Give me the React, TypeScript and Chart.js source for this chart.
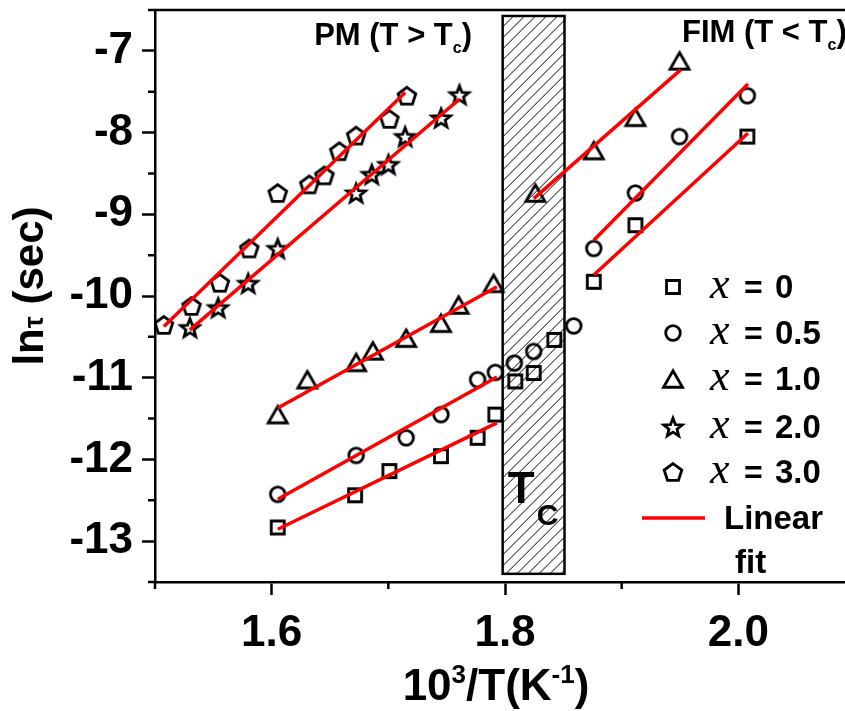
import { useEffect, useRef } from 'react';
import { Chart, registerables } from 'chart.js';

Chart.register(...registerables);

const SANS = '"Liberation Sans", Arial, Helvetica, sans-serif';
const SERIF = '"Liberation Serif", "Times New Roman", serif';

// 10^3/T (K^-1) and ln(tau) for each composition x
const x0Inv = [1.6052, 1.6715, 1.7009, 1.7451, 1.7765, 1.7917, 1.8088, 1.8246, 1.8423, 1.8761, 1.9118, 2.0077];
const x0LnTau = [-12.833, -12.439, -12.143, -11.96, -11.735, -11.451, -11.045, -10.943, -10.537, -9.826, -9.134, -8.049];

const x05Inv = [1.6052, 1.6724, 1.7153, 1.7451, 1.7765, 1.7917, 1.808, 1.8246, 1.8589, 1.8761, 1.9118, 1.9496, 2.0077];
const x05LnTau = [-12.427, -11.951, -11.735, -11.451, -11.024, -10.935, -10.821, -10.679, -10.366, -9.418, -8.74, -8.049, -7.549];

const x1Inv = [1.6052, 1.6306, 1.6724, 1.6867, 1.7153, 1.7451, 1.7602, 1.7902, 1.826, 1.8761, 1.9118, 1.9496];
const x1LnTau = [-11.451, -11.024, -10.813, -10.671, -10.516, -10.333, -10.11, -9.845, -8.74, -8.22, -7.813, -7.122];

const x2Inv = [1.5299, 1.5542, 1.5799, 1.6052, 1.6724, 1.6858, 1.7001, 1.7144, 1.7453, 1.761];
const x2LnTau = [-10.387, -10.143, -9.845, -9.418, -8.74, -8.512, -8.39, -8.049, -7.821, -7.537];

const x3Inv = [1.5076, 1.5313, 1.5556, 1.5808, 1.6052, 1.6323, 1.6452, 1.658, 1.6724, 1.7009, 1.7159];
const x3LnTau = [-10.354, -10.122, -9.838, -9.418, -8.74, -8.634, -8.524, -8.228, -8.037, -7.833, -7.549];

// Linear (Arrhenius) fits: [start, end] of each segment
const fitX3Inv = [1.5076, 1.7144];
const fitX3LnTau = [-10.374, -7.509];
const fitX2Inv = [1.5299, 1.761];
const fitX2LnTau = [-10.415, -7.589];
const fitX1ParaInv = [1.6052, 1.7931];
const fitX1ParaLnTau = [-11.37, -9.887];
const fitX05ParaInv = [1.6052, 1.7931];
const fitX05ParaLnTau = [-12.488, -10.991];
const fitX0ParaInv = [1.6052, 1.7931];
const fitX0ParaLnTau = [-12.854, -11.552];
const fitX1FerriInv = [1.8246, 1.9505];
const fitX1FerriLnTau = [-8.809, -7.232];
const fitX05FerriInv = [1.8761, 2.0082];
const fitX05FerriLnTau = [-9.317, -7.406];
const fitX0FerriInv = [1.8761, 2.0082];
const fitX0FerriLnTau = [-9.744, -8.009];

// Transition region around Tc
const tcBandInv = [1.798, 1.851];
const tcBandLnTau = [-13.4, -6.573];

const legendLabels = ['0', '0.5', '1.0', '2.0', '3.0'];
const markerKinds = ['square', 'circle', 'triangle', 'star', 'pentagon'];

const pts = (xs: number[], ys: number[]) => xs.map((x, i) => ({ x, y: ys[i] }));

function tracePath(ctx: CanvasRenderingContext2D, kind: string, cx: number, cy: number) {
  ctx.beginPath();
  if (kind === 'square') {
    ctx.rect(cx - 6.5, cy - 6.5, 13, 13);
  } else if (kind === 'circle') {
    ctx.arc(cx, cy, 7.3, 0, Math.PI * 2);
  } else if (kind === 'triangle') {
    const r = 11;
    const oy = cy + r / 4;
    for (let i = 0; i < 3; i++) {
      const a = -Math.PI / 2 + (i * 2 * Math.PI) / 3;
      const px = cx + r * Math.cos(a);
      const py = oy + r * Math.sin(a);
      if (i === 0) ctx.moveTo(px, py); else ctx.lineTo(px, py);
    }
  } else if (kind === 'pentagon') {
    const r = 9.3;
    const oy = cy + r * 0.0955;
    for (let i = 0; i < 5; i++) {
      const a = -Math.PI / 2 + (i * 2 * Math.PI) / 5;
      const px = cx + r * Math.cos(a);
      const py = oy + r * Math.sin(a);
      if (i === 0) ctx.moveTo(px, py); else ctx.lineTo(px, py);
    }
  } else if (kind === 'star') {
    const R = 9.8;
    const r = 4.2;
    const oy = cy + R * 0.0955;
    for (let i = 0; i < 10; i++) {
      const a = -Math.PI / 2 + (i * Math.PI) / 5;
      const rr = i % 2 === 0 ? R : r;
      const px = cx + rr * Math.cos(a);
      const py = oy + rr * Math.sin(a);
      if (i === 0) ctx.moveTo(px, py); else ctx.lineTo(px, py);
    }
  }
  ctx.closePath();
}

function makeMarker(kind: string): HTMLCanvasElement {
  const c = document.createElement('canvas');
  c.width = 30;
  c.height = 30;
  const ctx = c.getContext('2d')!;
  ctx.lineWidth = 2.8;
  ctx.strokeStyle = '#000';
  ctx.lineJoin = 'miter';
  tracePath(ctx, kind, 15, 15);
  ctx.stroke();
  return c;
}

type Run = { text: string; font: string; dy?: number };

function runsWidth(ctx: CanvasRenderingContext2D, runs: Run[]) {
  let w = 0;
  for (const r of runs) {
    ctx.font = r.font;
    w += ctx.measureText(r.text).width;
  }
  return w;
}

function drawRuns(ctx: CanvasRenderingContext2D, runs: Run[], x: number, y: number) {
  let cx = x;
  ctx.textAlign = 'left';
  ctx.textBaseline = 'alphabetic';
  for (const r of runs) {
    ctx.font = r.font;
    ctx.fillText(r.text, cx, y + (r.dy || 0));
    cx += ctx.measureText(r.text).width;
  }
}

export default function App() {
  const canvasRef = useRef<HTMLCanvasElement | null>(null);

  useEffect(() => {
    const canvas = canvasRef.current;
    if (!canvas) return;
    const markers = markerKinds.map(makeMarker);

    const scatter = (xs: number[], ys: number[], idx: number) => ({
      type: 'scatter' as const,
      data: pts(xs, ys),
      pointStyle: markers[idx],
      pointRadius: 9,
      showLine: false,
      order: 2,
    });
    const fit = (xs: number[], ys: number[]) => ({
      type: 'scatter' as const,
      data: pts(xs, ys),
      showLine: true,
      borderColor: '#ff0000',
      borderWidth: 3.5,
      pointRadius: 0,
      order: 1,
    });

    const decor = {
      id: 'decor',
      beforeDatasetsDraw(chart: any) {
        const { ctx, scales } = chart;
        const xs = scales.x;
        const ys = scales.y;
        // hatched Tc band
        const x1 = xs.getPixelForValue(tcBandInv[0]);
        const x2 = xs.getPixelForValue(tcBandInv[1]);
        const y1 = ys.getPixelForValue(tcBandLnTau[1]);
        const y2 = ys.getPixelForValue(tcBandLnTau[0]);
        ctx.save();
        ctx.beginPath();
        ctx.rect(x1, y1, x2 - x1, y2 - y1);
        ctx.clip();
        ctx.strokeStyle = '#000';
        ctx.lineWidth = 1;
        const h = y2 - y1;
        ctx.beginPath();
        for (let sx = x1 - h; sx < x2 + 2; sx += 11) {
          ctx.moveTo(sx, y2);
          ctx.lineTo(sx + h, y1);
        }
        ctx.stroke();
        ctx.restore();
        ctx.save();
        ctx.strokeStyle = '#000';
        ctx.lineWidth = 2.5;
        ctx.strokeRect(x1, y1, x2 - x1, y2 - y1);
        ctx.fillStyle = '#000';
        drawRuns(ctx, [{ text: 'T', font: `bold 44px ${SANS}` }], x1 + 5, ys.getPixelForValue(-12.53));
        drawRuns(ctx, [{ text: 'C', font: `bold 30px ${SANS}` }], x1 + 34, ys.getPixelForValue(-12.8));
        ctx.restore();
      },
      afterDraw(chart: any) {
        const { ctx, chartArea, scales } = chart;
        const xs = scales.x;
        const ys = scales.y;
        ctx.save();
        ctx.strokeStyle = '#000';
        ctx.fillStyle = '#000';
        ctx.lineWidth = 2.5;
        // top frame line
        ctx.beginPath();
        ctx.moveTo(chartArea.left, chartArea.top);
        ctx.lineTo(chartArea.right + 2, chartArea.top);
        ctx.stroke();
        // minor ticks
        ctx.beginPath();
        for (let v = -13.5; v <= -6.5 + 1e-9; v += 1) {
          const py = ys.getPixelForValue(v);
          ctx.moveTo(chartArea.left, py);
          ctx.lineTo(chartArea.left - 7, py);
        }
        for (let k = 15; k <= 21; k += 2) {
          const px = xs.getPixelForValue(k / 10);
          ctx.moveTo(px, chartArea.bottom);
          ctx.lineTo(px, chartArea.bottom + 7);
        }
        ctx.stroke();

        // region labels
        const pm: Run[] = [
          { text: 'PM (T > T', font: `bold 31px ${SANS}` },
          { text: 'c', font: `bold 16px ${SANS}`, dy: 8 },
          { text: ')', font: `bold 31px ${SANS}` },
        ];
        drawRuns(ctx, pm, 472 - runsWidth(ctx, pm), 45);
        const fim: Run[] = [
          { text: 'FIM (T < T', font: `bold 31px ${SANS}` },
          { text: 'c', font: `bold 16px ${SANS}`, dy: 8 },
          { text: ')', font: `bold 31px ${SANS}` },
        ];
        drawRuns(ctx, fim, 682, 42);

        // legend
        const rows = [287, 333, 379, 427, 472];
        ctx.lineWidth = 2.8;
        rows.forEach((ry, i) => {
          tracePath(ctx, markerKinds[i], 673, ry);
          ctx.stroke();
          drawRuns(ctx, [{ text: 'x', font: `italic 44px ${SERIF}` }], 710, ry + 11);
          drawRuns(ctx, [{ text: '=', font: `bold 32px ${SANS}` }], 744, ry + 11);
          drawRuns(ctx, [{ text: legendLabels[i], font: `bold 33px ${SANS}` }], 775, ry + 11);
        });
        ctx.strokeStyle = '#ff0000';
        ctx.lineWidth = 3.5;
        ctx.beginPath();
        ctx.moveTo(642, 518);
        ctx.lineTo(705, 518);
        ctx.stroke();
        drawRuns(ctx, [{ text: 'Linear', font: `bold 33px ${SANS}` }], 724, 529);
        drawRuns(ctx, [{ text: 'fit', font: `bold 33px ${SANS}` }], 735, 573);

        // axis titles
        const xt: Run[] = [
          { text: '10', font: `bold 44px ${SANS}` },
          { text: '3', font: `bold 26px ${SANS}`, dy: -17 },
          { text: '/T(K', font: `bold 44px ${SANS}` },
          { text: '-1', font: `bold 26px ${SANS}`, dy: -17 },
          { text: ')', font: `bold 44px ${SANS}` },
        ];
        drawRuns(ctx, xt, 496 - runsWidth(ctx, xt) / 2, 700);
        const yt: Run[] = [
          { text: 'ln', font: `bold 42px ${SANS}` },
          { text: 'τ', font: `bold 27px ${SANS}` },
          { text: ' (sec)', font: `bold 42px ${SANS}` },
        ];
        ctx.translate(43, 286);
        ctx.rotate(-Math.PI / 2);
        drawRuns(ctx, yt, -runsWidth(ctx, yt) / 2, 0);
        ctx.restore();
      },
    };

    const chart = new Chart(canvas, {
      type: 'scatter',
      data: {
        datasets: [
          scatter(x0Inv, x0LnTau, 0),
          scatter(x05Inv, x05LnTau, 1),
          scatter(x1Inv, x1LnTau, 2),
          scatter(x2Inv, x2LnTau, 3),
          scatter(x3Inv, x3LnTau, 4),
          fit(fitX3Inv, fitX3LnTau),
          fit(fitX2Inv, fitX2LnTau),
          fit(fitX1ParaInv, fitX1ParaLnTau),
          fit(fitX05ParaInv, fitX05ParaLnTau),
          fit(fitX0ParaInv, fitX0ParaLnTau),
          fit(fitX1FerriInv, fitX1FerriLnTau),
          fit(fitX05FerriInv, fitX05FerriLnTau),
          fit(fitX0FerriInv, fitX0FerriLnTau),
        ] as any,
      },
      plugins: [decor],
      options: {
        animation: false,
        responsive: false,
        devicePixelRatio: 1,
        layout: { padding: { top: 9, right: 15, left: 0, bottom: 0 } },
        plugins: { legend: { display: false }, tooltip: { enabled: false } },
        scales: {
          x: {
            type: 'linear',
            min: 1.5,
            max: 2.1,
            afterFit: (s: any) => {
              s.height = 129;
              s.paddingLeft = 0;
              s.paddingRight = 0;
            },
            border: { color: '#000', width: 2.5 },
            grid: {
              drawOnChartArea: false,
              drawTicks: true,
              tickLength: 13,
              tickWidth: 2.5,
              tickColor: (c: any) => (c.tick && Math.round(c.tick.value * 10) % 2 === 0 ? '#000' : 'rgba(0,0,0,0)'),
            },
            ticks: {
              stepSize: 0.1,
              autoSkip: false,
              maxRotation: 0,
              padding: 12,
              color: '#000',
              font: { family: SANS, size: 44, weight: 'bold' },
              callback: (v: any) => {
                const k = Math.round(Number(v) * 10);
                return k % 2 === 0 ? (k / 10).toFixed(1) : '';
              },
            },
          },
          y: {
            type: 'linear',
            min: -13.5,
            max: -6.5,
            afterFit: (s: any) => {
              s.width = 155;
              s.paddingTop = 0;
              s.paddingBottom = 0;
            },
            border: { color: '#000', width: 2.5 },
            grid: {
              drawOnChartArea: false,
              drawTicks: true,
              tickLength: 13,
              tickWidth: 2.5,
              tickColor: (c: any) => (c.tick && Number.isInteger(c.tick.value) ? '#000' : 'rgba(0,0,0,0)'),
            },
            ticks: {
              stepSize: 0.5,
              autoSkip: false,
              padding: 9,
              color: '#000',
              font: { family: SANS, size: 44, weight: 'bold' },
              callback: (v: any) => (Number.isInteger(Number(v)) ? String(v) : ''),
            },
          },
        },
      } as any,
    });
    return () => chart.destroy();
  }, []);

  return (
    <div style={{ position: 'fixed', left: 0, top: 0, width: 845, height: 711, overflow: 'hidden', background: '#fff' }}>
      <canvas ref={canvasRef} width={870} height={711} style={{ display: 'block', width: 870, height: 711 }} />
    </div>
  );
}
